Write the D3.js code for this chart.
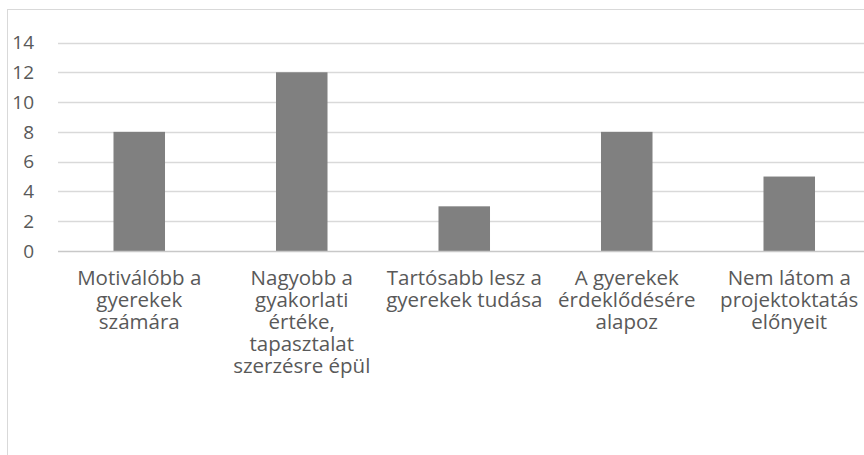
<!DOCTYPE html>
<html><head><meta charset="utf-8">
<script src="https://cdn.jsdelivr.net/npm/d3@7"></script>
<style>body{margin:0;background:#fff}svg{display:block}</style>
</head><body>
<svg id="c" width="864" height="455"></svg>
<script>
const categories = ["Motiválóbb a gyerekek számára","Nagyobb a gyakorlati értéke, tapasztalat szerzésre épül","Tartósabb lesz a gyerekek tudása","A gyerekek érdeklődésére alapoz","Nem látom a projektoktatás előnyeit"];
const labelLines = [["Motiválóbb a","gyerekek","számára"],["Nagyobb a","gyakorlati","értéke,","tapasztalat","szerzésre épül"],["Tartósabb lesz a","gyerekek tudása"],["A gyerekek","érdeklődésére","alapoz"],["Nem látom a","projektoktatás","előnyeit"]];
const values = [8,12,3,8,5];
const yTicks = [0,2,4,6,8,10,12,14];

const svg = d3.select("#c");
const font = "'Open Sans', sans-serif";
svg.append("rect").attr("x",7.5).attr("y",9.5).attr("width",900).attr("height",500)
  .attr("fill","#fff").attr("stroke","#d9d9d9");

const x = d3.scaleBand().domain(categories).range([58,870.5]).padding(0);
const y = d3.scaleLinear().domain([0,14]).range([251,42.5]);

const g = svg.append("g");
g.selectAll("line.grid").data(yTicks.filter(d=>d>0)).join("line")
  .attr("x1",58).attr("x2",870.5).attr("y1",d=>Math.round(y(d))+0.5).attr("y2",d=>Math.round(y(d))+0.5)
  .attr("stroke","#d9d9d9").attr("stroke-width",1.3);

const bw = x.bandwidth()*0.317;
g.selectAll("rect.bar").data(values).join("rect")
  .attr("x",(d,i)=>x(categories[i])+x.bandwidth()/2-bw/2)
  .attr("width",bw)
  .attr("y",d=>y(d)).attr("height",d=>y(0)-y(d))
  .attr("fill","#808080");

g.append("line").attr("x1",58).attr("x2",870.5).attr("y1",Math.round(y(0))+0.5).attr("y2",Math.round(y(0))+0.5)
  .attr("stroke","#c8c8c8").attr("stroke-width",1.3);

g.selectAll("text.yt").data(yTicks).join("text")
  .attr("x",34).attr("y",d=>y(d)).attr("dy","0.36em").attr("text-anchor","end")
  .attr("font-family",font).attr("font-size",19).attr("fill","#595959").text(d=>d);

labelLines.forEach((lines,i)=>{
  const cx = x(categories[i])+x.bandwidth()/2;
  const t = g.append("text").attr("text-anchor","middle").attr("font-family",font)
    .attr("font-size",20.5).attr("fill","#595959");
  lines.forEach((ln,j)=>{
    t.append("tspan").attr("x",cx).attr("y",285+j*22).text(ln);
  });
});
</script>
</body></html>
